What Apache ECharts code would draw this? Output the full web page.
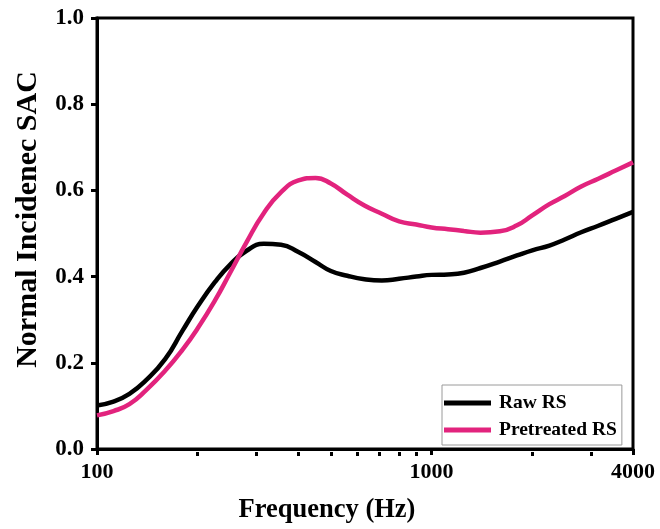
<!DOCTYPE html>
<html>
<head>
<meta charset="utf-8">
<script src="https://cdn.jsdelivr.net/npm/echarts@6/dist/echarts.min.js"></script>
<style>
  html, body { margin: 0; padding: 0; background: #fff; }
  #chart { width: 660px; height: 529px; }
</style>
</head>
<body>
<div id="chart"></div>
<script>
// Frequency samples (Hz), 1/6-octave spacing
const frequencies = [100, 112, 125, 140, 160, 180, 200, 225, 250, 280, 315, 355, 400, 450, 500, 560, 630, 710, 800, 900, 1000, 1120, 1250, 1400, 1600, 1800, 2000, 2250, 2500, 2800, 3150, 3550, 4000];

// Normal incidence sound absorption coefficient
const rawRS = [0.101, 0.110, 0.128, 0.159, 0.209, 0.274, 0.331, 0.387, 0.428, 0.460, 0.476, 0.474, 0.457, 0.434, 0.413, 0.402, 0.394, 0.391, 0.395, 0.400, 0.404, 0.405, 0.409, 0.420, 0.435, 0.449, 0.461, 0.472, 0.486, 0.503, 0.518, 0.534, 0.550];
const pretreatedRS = [0.078, 0.088, 0.104, 0.136, 0.182, 0.230, 0.280, 0.344, 0.409, 0.480, 0.547, 0.596, 0.623, 0.629, 0.616, 0.590, 0.565, 0.546, 0.528, 0.521, 0.514, 0.510, 0.506, 0.502, 0.505, 0.519, 0.542, 0.568, 0.587, 0.609, 0.627, 0.646, 0.665];

// Axis ticks
const xMajorTicks = [100, 1000, 4000];
const xMinorTicks = [200, 300, 400, 500, 600, 700, 800, 900, 2000, 3000];

const seriesNames = ['Raw RS', 'Pretreated RS'];

const FONT = '"Liberation Serif", "DejaVu Serif", serif';

const toPairs = (ys) => frequencies.map((f, i) => [f, ys[i]]);

const gridBox = { left: 97, right: 27, top: 18, bottom: 77 };

const chart = echarts.init(document.getElementById('chart'), null, { renderer: 'canvas' });

chart.setOption({
  backgroundColor: '#ffffff',
  animation: false,
  grid: [
    Object.assign({ show: true, borderColor: '#000', borderWidth: 3, backgroundColor: 'transparent' }, gridBox),
    // overlay grid carrying only the short minor ticks of the frequency axis
    Object.assign({ show: false }, gridBox)
  ],
  legend: {
    orient: 'vertical',
    left: 442, top: 385,
    padding: [8, 5, 5, 2],
    itemGap: 7,
    itemWidth: 47, itemHeight: 5,
    icon: 'rect',
    borderColor: '#9a9a9a', borderWidth: 1,
    backgroundColor: '#fff',
    textStyle: { fontFamily: FONT, fontWeight: 'bold', fontSize: 19.5, color: '#000', lineHeight: 20, padding: [0, 0, 0, 3] },
    data: seriesNames
  },
  xAxis: [
    {
      type: 'log', logBase: 10, min: 100, max: 4000, gridIndex: 0,
      name: 'Frequency (Hz)', nameLocation: 'middle', nameGap: 48,
      nameTextStyle: { fontFamily: FONT, fontWeight: 'bold', fontSize: 26.5, color: '#000', padding: [0, 76, 0, 0] },
      axisLine: { show: true, lineStyle: { color: '#000', width: 3 } },
      axisTick: { show: true, inside: false, length: 6, lineStyle: { color: '#000', width: 3 }, customValues: xMajorTicks },
      axisLabel: {
        fontFamily: FONT, fontWeight: 'bold', fontSize: 22, color: '#000', margin: 12,
        customValues: xMajorTicks,
        formatter: (v) => String(Math.round(v))
      },
      splitLine: { show: false },
      minorTick: { show: false }
    },
    {
      type: 'log', logBase: 10, min: 100, max: 4000, gridIndex: 1, position: 'bottom',
      axisLine: { show: false },
      axisTick: { show: true, inside: false, length: 4, lineStyle: { color: '#000', width: 3 }, customValues: xMinorTicks },
      axisLabel: { show: false },
      splitLine: { show: false }
    }
  ],
  yAxis: [
    {
      type: 'value', min: 0, max: 1, interval: 0.2, gridIndex: 0,
      name: 'Normal Incidenec SAC', nameLocation: 'middle', nameGap: 54, nameRotate: 90,
      nameTextStyle: { fontFamily: FONT, fontWeight: 'bold', fontSize: 30, color: '#000', padding: [0, 0, 0, 28] },
      axisLine: { show: true, lineStyle: { color: '#000', width: 3 } },
      axisTick: { show: true, inside: false, length: 6, lineStyle: { color: '#000', width: 3 } },
      axisLabel: {
        fontFamily: FONT, fontWeight: 'bold', fontSize: 23, color: '#000', margin: 13,
        formatter: (v) => v.toFixed(1)
      },
      splitLine: { show: false }
    },
    {
      type: 'value', min: 0, max: 1, gridIndex: 1, show: false
    }
  ],
  series: [
    {
      name: seriesNames[0], type: 'line', xAxisIndex: 0, yAxisIndex: 0,
      data: toPairs(rawRS), smooth: 0.5, showSymbol: false,
      color: '#000000',
      lineStyle: { color: '#000000', width: 4.5 }
    },
    {
      name: seriesNames[1], type: 'line', xAxisIndex: 0, yAxisIndex: 0,
      data: toPairs(pretreatedRS), smooth: 0.5, showSymbol: false,
      color: '#E2237D',
      lineStyle: { color: '#E2237D', width: 4.5 }
    }
  ]
});
</script>
</body>
</html>
